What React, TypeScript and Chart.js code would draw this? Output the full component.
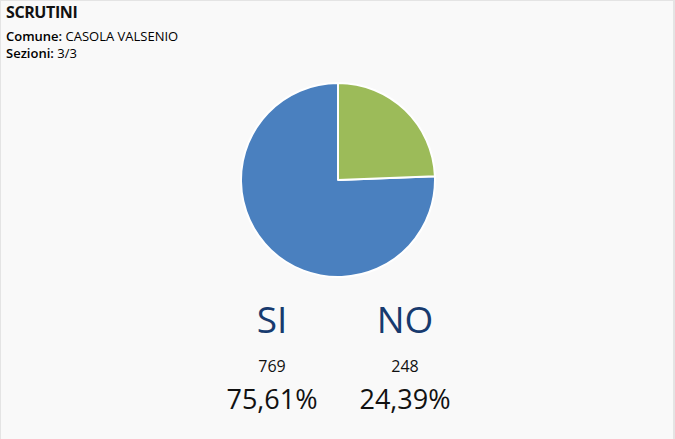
import React, { useEffect, useRef } from "react";
import { Chart, registerables } from "chart.js";

Chart.register(...registerables);

const categories = ["SI", "NO"];
const votes = [769, 248];
const percentLabels = ["75,61%", "24,39%"];
const sliceColors = ["#4a80bf", "#9cbb59"];
const title = "SCRUTINI";
const comune = "CASOLA VALSENIO";
const sezioni = "3/3";

const font = "'Open Sans', 'Noto Sans', sans-serif";
const columnCenters = [271, 404];

export default function App() {
  const ref = useRef<HTMLCanvasElement | null>(null);

  useEffect(() => {
    if (!ref.current) return;
    const total = votes.reduce((a, b) => a + b, 0);
    const chart = new Chart(ref.current, {
      type: "pie",
      data: {
        labels: categories,
        datasets: [
          {
            data: votes,
            backgroundColor: sliceColors,
            borderColor: "#ffffff",
            borderWidth: 2,
          },
        ],
      },
      options: {
        animation: false,
        responsive: false,
        rotation: (360 * votes[1]) / total,
        layout: { padding: 0 },
        plugins: { legend: { display: false }, tooltip: { enabled: false } },
      },
    });
    return () => chart.destroy();
  }, []);

  return (
    <div
      style={{
        position: "fixed",
        left: 0,
        top: 0,
        width: 675,
        height: 439,
        background: "#f9f9f9",
        borderTop: "1px solid #e4e4e4",
        borderLeft: "1px solid #e4e4e4",
        borderRight: "2px solid #e4e4e4",
        boxSizing: "border-box",
        fontFamily: font,
        color: "#111",
        overflow: "hidden",
      }}
    >
      <div
        style={{
          position: "absolute",
          left: 5,
          top: 0,
          fontSize: 16,
          fontWeight: 700,
          lineHeight: "22px",
          letterSpacing: -0.4,
        }}
      >
        {title}
      </div>
      <div style={{ position: "absolute", left: 5, top: 27, fontSize: 13, lineHeight: "16px", color: "#000" }}>
        <span style={{ fontWeight: 600 }}>Comune:</span> {comune}
      </div>
      <div style={{ position: "absolute", left: 5, top: 44, fontSize: 13, lineHeight: "16px", color: "#000" }}>
        <span style={{ fontWeight: 600 }}>Sezioni:</span> {sezioni}
      </div>
      <canvas
        ref={ref}
        width={196}
        height={196}
        style={{ position: "absolute", left: 239, top: 81, width: 196, height: 196 }}
      />
      {categories.map((c, i) => (
        <React.Fragment key={c}>
          <div
            style={{
              position: "absolute",
              left: columnCenters[i] - 80,
              width: 160,
              top: 293,
              textAlign: "center",
              fontSize: 37,
              lineHeight: "50px",
              color: "#173a6e",
            }}
          >
            {c}
          </div>
          <div
            style={{
              position: "absolute",
              left: columnCenters[i] - 80,
              width: 160,
              top: 354,
              textAlign: "center",
              fontSize: 16,
              lineHeight: "22px",
            }}
          >
            {votes[i]}
          </div>
          <div
            style={{
              position: "absolute",
              left: columnCenters[i] - 80,
              width: 160,
              top: 380,
              textAlign: "center",
              fontSize: 27,
              lineHeight: "36px",
            }}
          >
            {percentLabels[i]}
          </div>
        </React.Fragment>
      ))}
    </div>
  );
}
